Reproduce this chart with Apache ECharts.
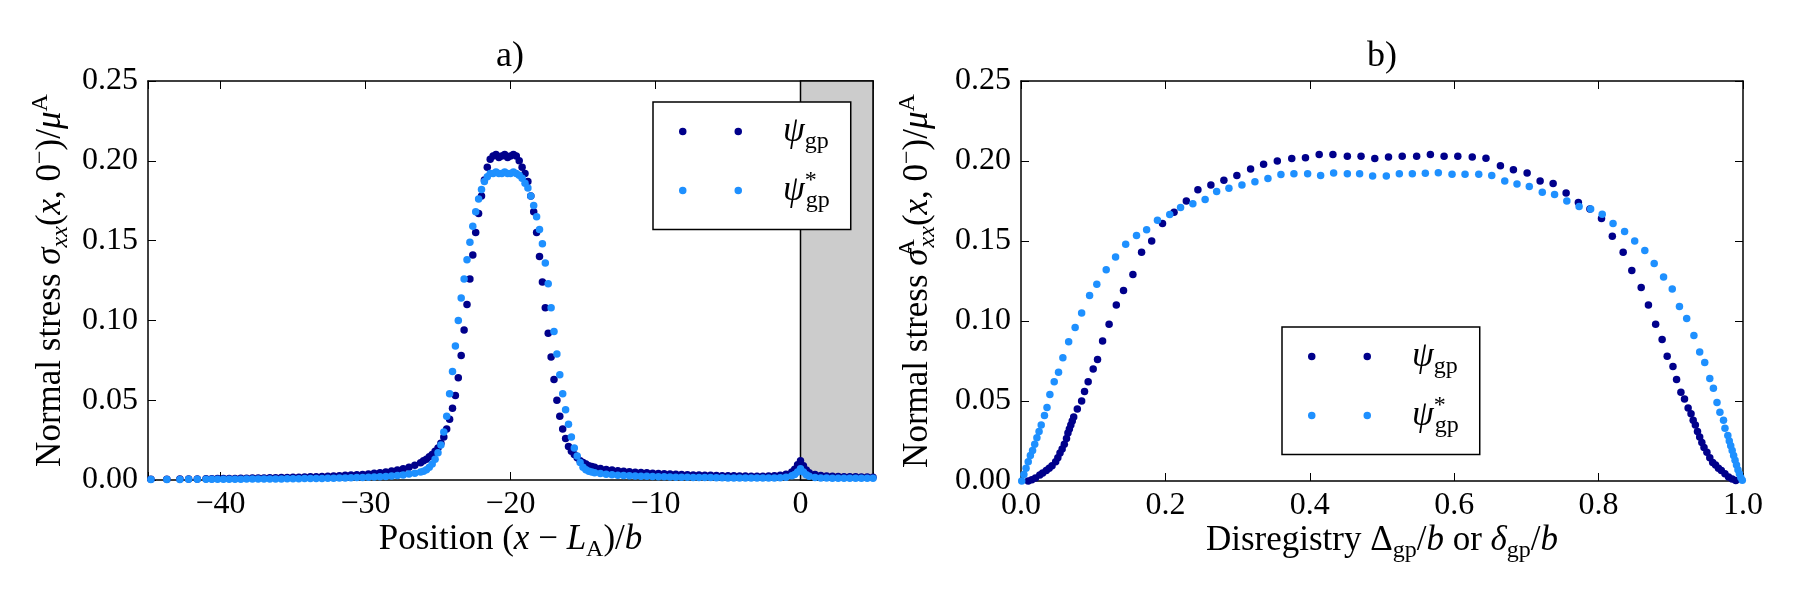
<!DOCTYPE html>
<html>
<head>
<meta charset="utf-8">
<title>Normal stress</title>
<script src="https://cdn.jsdelivr.net/npm/echarts@6/dist/echarts.min.js"></script>
<style>
  html, body { margin: 0; padding: 0; background: #fff; }
  #chart { width: 1800px; height: 600px; }
</style>
</head>
<body>
<div id="chart"></div>
<script>
// ---- data ----
// a) stress along the glide plane, positions (x - L_A)/b
const posA = [
  -44.8, -43.7, -42.8, -42.2, -41.6, -41.0, -40.6, -40.2, -39.8, -39.4,
  -39.0, -38.6, -38.2, -37.8, -37.4, -37.0, -36.6, -36.2, -35.8, -35.4,
  -35.0, -34.6, -34.2, -33.8, -33.4, -33.0, -32.6, -32.2, -31.8, -31.4,
  -31.0, -30.6, -30.2, -29.8, -29.4, -29.0, -28.6, -28.2, -27.8, -27.4,
  -27.0, -26.6, -26.2,
  -26.0, -25.8, -25.6, -25.4, -25.2, -25.0, -24.8, -24.6, -24.4, -24.2,
  -24.0, -23.8, -23.6, -23.4, -23.2, -23.0, -22.8, -22.6, -22.4, -22.2,
  -22.0, -21.8, -21.6, -21.4, -21.2, -21.0, -20.8, -20.6, -20.4, -20.2,
  -20.0, -19.8, -19.6, -19.4, -19.2, -19.0, -18.8, -18.6, -18.4, -18.2,
  -18.0, -17.8, -17.6, -17.4, -17.2, -17.0, -16.8, -16.6, -16.4, -16.2,
  -16.0, -15.8, -15.6, -15.4, -15.2, -15.0, -14.8, -14.6, -14.4, -14.2,
  -13.8, -13.4, -13.0, -12.6, -12.2, -11.8, -11.4, -11.0, -10.6, -10.2,
  -9.8, -9.4, -9.0, -8.6, -8.2, -7.8, -7.4, -7.0, -6.6, -6.2,
  -5.8, -5.4, -5.0, -4.6, -4.2, -3.8, -3.4, -3.0, -2.6, -2.2,
  -1.8, -1.4, -1.0,
  -0.6, -0.4, -0.2, 0.0, 0.2, 0.4, 0.6,
  1.0, 1.4, 1.8, 2.2, 2.6, 3.0, 3.4, 3.8, 4.2, 4.6, 5.0
]
const stressGp = [
  0.0004, 0.0005, 0.0006, 0.0006, 0.0007, 0.0008, 0.0008, 0.0009, 0.0009, 0.0010,
  0.0010, 0.0011, 0.0011, 0.0012, 0.0012, 0.0013, 0.0014, 0.0014, 0.0015, 0.0016,
  0.0017, 0.0018, 0.0019, 0.0020, 0.0021, 0.0022, 0.0024, 0.0025, 0.0027, 0.0029,
  0.0031, 0.0033, 0.0035, 0.0038, 0.0042, 0.0046, 0.0050, 0.0056, 0.0063, 0.0071,
  0.0080, 0.0092, 0.0108,
  0.012, 0.013, 0.0145, 0.016, 0.018, 0.020, 0.023, 0.027, 0.032, 0.038,
  0.045, 0.053, 0.064, 0.078, 0.094, 0.110, 0.126, 0.141, 0.155, 0.167,
  0.178, 0.188, 0.196, 0.201, 0.203, 0.204, 0.202, 0.203, 0.204, 0.202,
  0.203, 0.204, 0.203, 0.200, 0.196, 0.192, 0.187, 0.178, 0.168, 0.155,
  0.140, 0.124, 0.108, 0.092, 0.077, 0.063, 0.050, 0.040, 0.032, 0.026,
  0.021, 0.018, 0.016, 0.014, 0.012, 0.011, 0.010, 0.009, 0.0085, 0.008,
  0.0072, 0.0066, 0.0062, 0.0058, 0.0055, 0.0052, 0.0049, 0.0047, 0.0045, 0.0043,
  0.0041, 0.0039, 0.0037, 0.0036, 0.0035, 0.0033, 0.0032, 0.0031, 0.0030, 0.0029,
  0.0028, 0.0027, 0.0027, 0.0026, 0.0025, 0.0025, 0.0024, 0.0024, 0.0024, 0.0025,
  0.0026, 0.0029, 0.0036,
  0.0050, 0.0068, 0.0095, 0.0120, 0.0090, 0.0062, 0.0046,
  0.0034, 0.0028, 0.0025, 0.0023, 0.0022, 0.0021, 0.0020, 0.0020, 0.0019, 0.0019, 0.0018
]
const stressGpStar = [
  0.0003, 0.0003, 0.0003, 0.0004, 0.0004, 0.0004, 0.0004, 0.0005, 0.0005, 0.0005,
  0.0005, 0.0005, 0.0006, 0.0006, 0.0006, 0.0006, 0.0007, 0.0007, 0.0007, 0.0008,
  0.0008, 0.0008, 0.0009, 0.0009, 0.0010, 0.0010, 0.0011, 0.0011, 0.0012, 0.0013,
  0.0014, 0.0015, 0.0016, 0.0017, 0.0019, 0.0020, 0.0022, 0.0025, 0.0028, 0.0032,
  0.0037, 0.0043, 0.0050,
  0.0055, 0.0065, 0.008, 0.010, 0.013, 0.017, 0.022, 0.030, 0.040, 0.054,
  0.068, 0.084, 0.100, 0.114, 0.126, 0.138, 0.149, 0.159, 0.168, 0.176,
  0.182, 0.187, 0.190, 0.192, 0.192, 0.193, 0.192, 0.192, 0.193, 0.192,
  0.192, 0.193, 0.192, 0.191, 0.189, 0.186, 0.183, 0.178, 0.172, 0.165,
  0.157, 0.148, 0.136, 0.123, 0.108, 0.093, 0.079, 0.066, 0.054, 0.044,
  0.035, 0.027, 0.020, 0.015, 0.011, 0.008, 0.0065, 0.0055, 0.0050, 0.0045,
  0.0040, 0.0036, 0.0033, 0.0030, 0.0028, 0.0026, 0.0025, 0.0024, 0.0023, 0.0022,
  0.0021, 0.0020, 0.0019, 0.0018, 0.0018, 0.0017, 0.0016, 0.0016, 0.0015, 0.0015,
  0.0014, 0.0014, 0.0013, 0.0013, 0.0013, 0.0012, 0.0012, 0.0012, 0.0012, 0.0012,
  0.0013, 0.0014, 0.0018,
  0.0026, 0.0035, 0.0050, 0.0070, 0.0050, 0.0033, 0.0024,
  0.0016, 0.0013, 0.0012, 0.0011, 0.0011, 0.0011, 0.0011, 0.0011, 0.0011, 0.0011, 0.0011
]

// b) stress against disregistry
const disregGp = [
  0.010, 0.015, 0.020, 0.026, 0.030, 0.035, 0.039, 0.043, 0.048, 0.051,
  0.054, 0.057, 0.060, 0.063, 0.065, 0.067, 0.069, 0.071, 0.073,
  0.078, 0.084, 0.088, 0.093, 0.100, 0.106, 0.113, 0.122, 0.132, 0.142,
  0.155, 0.167, 0.181, 0.196, 0.212, 0.229, 0.245, 0.263, 0.281, 0.299,
  0.318, 0.336, 0.355, 0.375, 0.394, 0.413, 0.432, 0.452, 0.471, 0.490,
  0.509, 0.528, 0.548, 0.567, 0.586, 0.605, 0.625, 0.644, 0.664, 0.682,
  0.701, 0.719, 0.737, 0.755, 0.772, 0.788, 0.804, 0.819, 0.834, 0.846,
  0.859, 0.869, 0.879, 0.888, 0.895, 0.903, 0.908, 0.914, 0.919, 0.924, 0.928,
  0.931, 0.934, 0.937, 0.940, 0.943, 0.946, 0.950, 0.954, 0.958, 0.962,
  0.966, 0.970, 0.975, 0.980, 0.985, 0.990
]
const stressGpB = [
  0.0000, 0.0008, 0.0018, 0.0037, 0.0050, 0.0065, 0.0080, 0.0095, 0.0120, 0.0145,
  0.0175, 0.0200, 0.0230, 0.0265, 0.0300, 0.0325, 0.0350, 0.0375, 0.0400,
  0.045, 0.050, 0.056, 0.062, 0.070, 0.076, 0.0875, 0.098, 0.110, 0.119,
  0.129, 0.143, 0.150, 0.161, 0.168, 0.175, 0.182, 0.185, 0.188, 0.191,
  0.195, 0.198, 0.200, 0.2015, 0.202, 0.204, 0.204, 0.203, 0.203, 0.2015,
  0.2025, 0.203, 0.203, 0.204, 0.203, 0.203, 0.2025, 0.2017, 0.197, 0.1946,
  0.1925, 0.1875, 0.186, 0.180, 0.174, 0.170, 0.164, 0.153, 0.143, 0.1315,
  0.121, 0.110, 0.098, 0.0885, 0.078, 0.0715, 0.0635, 0.0554, 0.0512, 0.0456, 0.042,
  0.038, 0.035, 0.031, 0.0275, 0.024, 0.021, 0.018, 0.0145, 0.0115, 0.010,
  0.008, 0.0065, 0.0045, 0.0025, 0.0012, 0.0003
]
const disregGpStar = [
  0.001, 0.004, 0.007, 0.010, 0.013, 0.016, 0.019, 0.022, 0.025,
  0.028, 0.0325, 0.036, 0.040, 0.046, 0.052, 0.058, 0.066, 0.075, 0.084,
  0.095, 0.105, 0.118, 0.131, 0.145, 0.160, 0.174, 0.189, 0.206, 0.221,
  0.238, 0.255, 0.271, 0.288, 0.306, 0.324, 0.342, 0.360, 0.378, 0.397,
  0.415, 0.433, 0.452, 0.469, 0.487, 0.506, 0.524, 0.542, 0.560, 0.578,
  0.597, 0.615, 0.634, 0.652, 0.670, 0.687, 0.704, 0.722, 0.739, 0.756,
  0.773, 0.789, 0.805, 0.820, 0.836, 0.850, 0.864, 0.877, 0.890, 0.902,
  0.912, 0.922, 0.932, 0.940, 0.947, 0.954, 0.959, 0.964, 0.968, 0.973,
  0.975, 0.979,
  0.981, 0.983, 0.985, 0.987, 0.989, 0.991, 0.993, 0.995, 0.997, 0.999
]
const stressGpStarB = [
  0.000, 0.004, 0.008, 0.012, 0.016, 0.019, 0.023, 0.027, 0.031,
  0.035, 0.041, 0.046, 0.054, 0.062, 0.068, 0.077, 0.087, 0.096, 0.105,
  0.116, 0.123, 0.132, 0.140, 0.148, 0.1535, 0.157, 0.163, 0.1665, 0.171,
  0.1733, 0.176, 0.181, 0.183, 0.185, 0.187, 0.189, 0.1915, 0.192, 0.192,
  0.191, 0.1925, 0.192, 0.192, 0.1906, 0.1906, 0.192, 0.192, 0.1923, 0.1927,
  0.1917, 0.1917, 0.1917, 0.191, 0.1875, 0.1856, 0.184, 0.1804, 0.179, 0.175,
  0.1715, 0.170, 0.1667, 0.161, 0.156, 0.150, 0.144, 0.136, 0.1275, 0.120,
  0.109, 0.1015, 0.091, 0.0806, 0.074, 0.064, 0.058, 0.049, 0.043, 0.038,
  0.033, 0.0285,
  0.025, 0.022, 0.019, 0.016, 0.013, 0.010, 0.007, 0.0045, 0.0022, 0.0005
]

const seriesNames = ['ψgp', 'ψ*gp']
const colors = ['#00008b', '#1e90ff']

// ---- styles ----
const FONT = 'Liberation Serif'
const rich = {
  r: { fontFamily: FONT, fontSize: 35, lineHeight: 44, color: '#000' },
  i: { fontFamily: FONT, fontSize: 35, fontStyle: 'italic', lineHeight: 44, color: '#000' },
  sub: { fontFamily: FONT, fontSize: 24, lineHeight: 24, verticalAlign: 'bottom', color: '#000' },
  subi: { fontFamily: FONT, fontSize: 24, fontStyle: 'italic', lineHeight: 24, verticalAlign: 'bottom', color: '#000' },
  sup: { fontFamily: FONT, fontSize: 24, lineHeight: 24, verticalAlign: 'top', color: '#000' },
  // superscript stacked over the following subscript
  supz: { fontFamily: FONT, fontSize: 24, lineHeight: 24, verticalAlign: 'top', width: 1, color: '#000' }
}

const zip = (xs, ys) => xs.map((x, i) => [x, ys[i]])

function frameAxis(extra) {
  return Object.assign({
    type: 'value',
    axisLine: { show: true, onZero: false, lineStyle: { color: '#000', width: 1.5 } },
    axisTick: { show: true, inside: true, length: 8, lineStyle: { color: '#000', width: 1 } },
    splitLine: { show: false },
    axisLabel: { show: false },
    nameMoveOverlap: false
  }, extra)
}

const tickLabel = {
  show: true, fontFamily: FONT, fontSize: 32, color: '#000', margin: 10
}

const twoDots = 'path://M0,3.75a3.75,3.75 0 1,0 7.5,0a3.75,3.75 0 1,0 -7.5,0Z M55.5,3.75a3.75,3.75 0 1,0 7.5,0a3.75,3.75 0 1,0 -7.5,0Z'

function legendAt(left, top) {
  return {
    data: seriesNames,
    orient: 'vertical',
    left: left,
    top: top,
    icon: twoDots,
    itemWidth: 63,
    itemHeight: 7.5,
    itemGap: 15,
    padding: [12, 21, 17, 26],
    backgroundColor: '#fff',
    borderColor: '#000',
    borderWidth: 1.5,
    borderRadius: 0,
    selectedMode: false,
    formatter: name => name === 'ψgp' ? '{i|ψ}{sub|gp}' : '{i|ψ}{supz|*}{sub|gp}',
    textStyle: { rich: rich, padding: [0, 0, 0, 36] }
  }
}

const chart = echarts.init(document.getElementById('chart'))

const dot = c => ({ color: c, opacity: 1 })

const option = {
  animation: false,
  backgroundColor: '#fff',
  grid: [
    { left: 148, right: 927, top: 81, bottom: 120, outerBoundsMode: 'none' },
    { left: 1021, right: 57, top: 81, bottom: 119, outerBoundsMode: 'none' }
  ],
  xAxis: [
    frameAxis({
      gridIndex: 0, position: 'bottom', min: -45, max: 5, splitNumber: 5,
      axisLabel: Object.assign({}, tickLabel, {
        margin: 9,
        formatter: v => (v % 10 === 0 ? String(v).replace('-', '\u2212') : '')
      }),
      name: '{r|Position (}{i|x}{r| \u2212 }{i|L}{sub|A}{r|)/}{i|b}',
      nameLocation: 'middle', nameGap: 38,
      nameTextStyle: { rich: rich }
    }),
    frameAxis({ gridIndex: 0, position: 'top', min: -45, max: 5, splitNumber: 5 }),
    frameAxis({
      gridIndex: 1, position: 'bottom', min: 0, max: 1, interval: 0.2,
      axisLabel: Object.assign({}, tickLabel, { margin: 9, formatter: v => v.toFixed(1) }),
      name: '{r|Disregistry \u0394}{sub|gp}{r|/}{i|b}{r| or }{i|\u03b4}{sub|gp}{r|/}{i|b}',
      nameLocation: 'middle', nameGap: 38,
      nameTextStyle: { rich: rich }
    }),
    frameAxis({ gridIndex: 1, position: 'top', min: 0, max: 1, interval: 0.2 })
  ],
  yAxis: [
    frameAxis({
      gridIndex: 0, position: 'left', min: 0, max: 0.25, interval: 0.05,
      axisLabel: Object.assign({}, tickLabel, { formatter: v => v.toFixed(2) }),
      name: '{r|Normal stress }{i|\u03c3}{subi|xx}{r|(}{i|x}{r|, 0}{sup|\u2212}{r|)/}{i|\u03bc}{sup|A}',
      nameLocation: 'middle', nameGap: 75, nameRotate: 90,
      nameTextStyle: { rich: rich }
    }),
    frameAxis({ gridIndex: 0, position: 'right', min: 0, max: 0.25, interval: 0.05 }),
    frameAxis({
      gridIndex: 1, position: 'left', min: 0, max: 0.25, interval: 0.05,
      axisLabel: Object.assign({}, tickLabel, { formatter: v => v.toFixed(2) }),
      name: '{r|Normal stress }{i|\u03c3}{supz|A}{subi|xx}{r|(}{i|x}{r|, 0}{sup|\u2212}{r|)/}{i|\u03bc}{sup|A}',
      nameLocation: 'middle', nameGap: 81, nameRotate: 90,
      nameTextStyle: { rich: rich }
    }),
    frameAxis({ gridIndex: 1, position: 'right', min: 0, max: 0.25, interval: 0.05 })
  ],
  legend: [legendAt(653, 102), legendAt(1282, 327)],
  graphic: [
    { type: 'text', x: 510, y: 57, style: { text: 'a)', font: '36px "Liberation Serif"', fill: '#000', align: 'center', verticalAlign: 'middle' } },
    { type: 'text', x: 1382, y: 57, style: { text: 'b)', font: '36px "Liberation Serif"', fill: '#000', align: 'center', verticalAlign: 'middle' } }
  ],
  series: [
    {
      name: seriesNames[0], type: 'scatter', xAxisIndex: 0, yAxisIndex: 0,
      data: zip(posA, stressGp), symbolSize: 7.5,
      itemStyle: dot(colors[0]),
      markArea: {
        silent: true,
        itemStyle: { color: '#cccccc', borderColor: '#000', borderWidth: 1.5, opacity: 1 },
        data: [[{ xAxis: 0 }, { xAxis: 5 }]]
      }
    },
    {
      name: seriesNames[1], type: 'scatter', xAxisIndex: 0, yAxisIndex: 0,
      data: zip(posA, stressGpStar), symbolSize: 7.5,
      itemStyle: dot(colors[1])
    },
    {
      name: seriesNames[0], type: 'scatter', xAxisIndex: 2, yAxisIndex: 2,
      data: zip(disregGp, stressGpB), symbolSize: 7.5,
      itemStyle: dot(colors[0])
    },
    {
      name: seriesNames[1], type: 'scatter', xAxisIndex: 2, yAxisIndex: 2,
      data: zip(disregGpStar, stressGpStarB), symbolSize: 7.5,
      itemStyle: dot(colors[1])
    }
  ]
}

chart.setOption(option)
</script>
</body>
</html>
